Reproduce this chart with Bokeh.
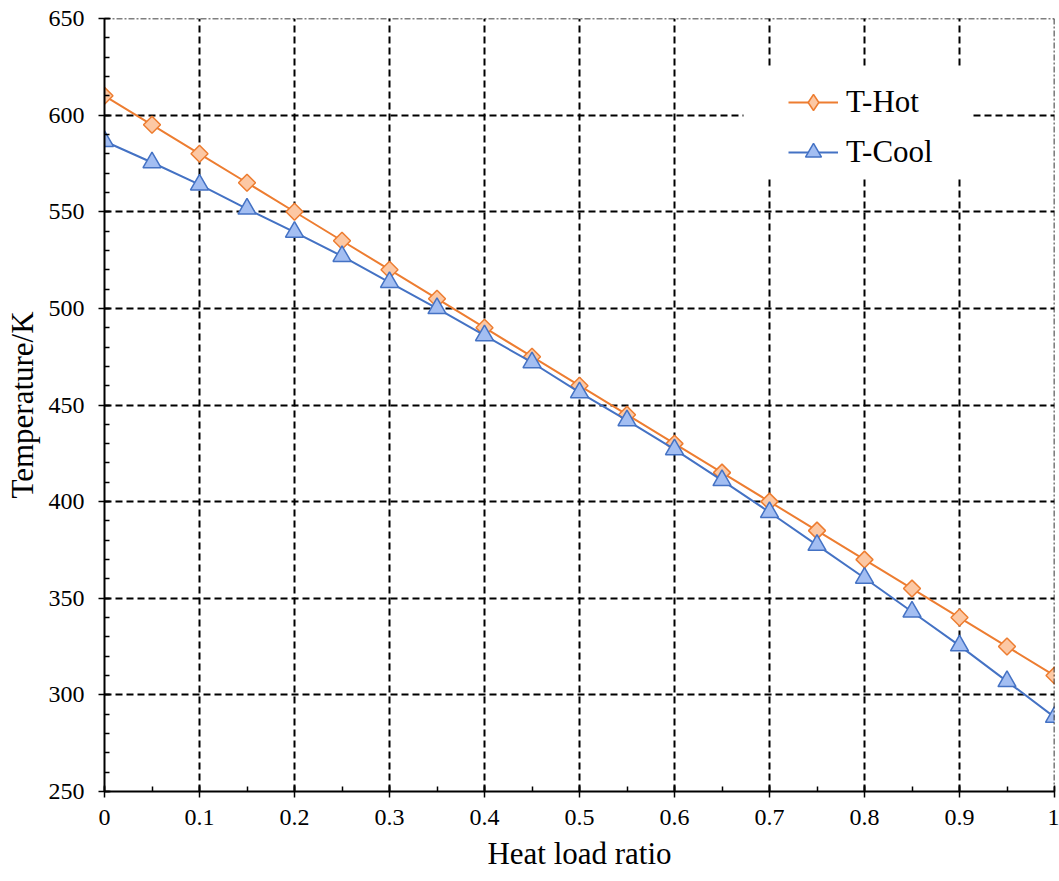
import numpy as np
from bokeh.plotting import figure
from bokeh.models import (SingleIntervalTicker, FixedTicker, Span, BoxAnnotation,
                          CustomJSTickFormatter, Legend, LegendItem)
from bokeh.embed import file_html
from bokeh.resources import INLINE

# ---- data ----
heat_load_ratio = [0.0, 0.05, 0.1, 0.15, 0.2, 0.25, 0.3, 0.35, 0.4, 0.45, 0.5,
                   0.55, 0.6, 0.65, 0.7, 0.75, 0.8, 0.85, 0.9, 0.95, 1.0]
t_hot = [610, 595, 580, 565, 550, 535, 520, 505, 490, 475, 460,
         445, 430, 415, 400, 385, 370, 355, 340, 325, 310]
t_cool = [586.5, 575.5, 564, 551.5, 539.5, 527, 513.5, 500, 486, 472, 456.5,
          442, 427, 411, 394.5, 377.5, 360.5, 343, 325.5, 307, 288.5]

x_ticks = [0, 0.1, 0.2, 0.3, 0.4, 0.5, 0.6, 0.7, 0.8, 0.9, 1.0]
y_ticks = [250, 300, 350, 400, 450, 500, 550, 600, 650]
series_names = ["T-Hot", "T-Cool"]

FONT = "Liberation Serif"
ORANGE = "#ED7D31"
ORANGE_FILL = "#FCC8A4"
BLUE = "#4472C4"
BLUE_FILL = "#A3BEF2"

p = figure(width=1059, height=881, output_backend="svg", toolbar_location=None,
           x_range=(x_ticks[0], x_ticks[-1]), y_range=(y_ticks[0], y_ticks[-1]),
           min_border_left=104, min_border_right=5, min_border_top=18,
           min_border_bottom=90)
p.title.visible = False
p.outline_line_color = None
p.background_fill_color = "white"
p.border_fill_color = "white"

# grids (interior) dashed
p.xgrid.ticker = FixedTicker(ticks=x_ticks[1:-1])
p.ygrid.ticker = FixedTicker(ticks=y_ticks[1:-1])
for g in (p.xgrid, p.ygrid):
    g.grid_line_color = "black"
    g.grid_line_dash = "7 4"
    g.grid_line_width = 2

# plot-area border (top/right) dash-dot
p.add_layout(Span(location=y_ticks[-1], dimension="width", line_color="black",
                  line_width=1.6, line_dash="6 2 2 2"))
p.add_layout(Span(location=x_ticks[-1], dimension="height", line_color="black",
                  line_width=1.6, line_dash="6 2 2 2"))

# axes
p.xaxis.ticker = SingleIntervalTicker(interval=0.1, num_minor_ticks=2)
p.yaxis.ticker = SingleIntervalTicker(interval=50, num_minor_ticks=5)
p.xaxis.formatter = CustomJSTickFormatter(code="return String(Number(tick.toFixed(2)));")
p.xaxis.axis_label = "Heat load ratio"
p.yaxis.axis_label = "Temperature/K"
for ax in (p.xaxis, p.yaxis):
    ax.axis_line_color = "black"
    ax.axis_line_width = 2
    ax.major_tick_line_color = "black"
    ax.major_tick_line_width = 1.5
    ax.major_tick_in = 6
    ax.major_tick_out = 6
    ax.minor_tick_line_color = "black"
    ax.minor_tick_line_width = 1.5
    ax.minor_tick_in = 5
    ax.minor_tick_out = 0
    ax.major_label_text_font = FONT
    ax.major_label_text_font_size = "24px"
    ax.major_label_text_color = "black"
    ax.axis_label_text_font = FONT
    ax.axis_label_text_font_size = "31px"
    ax.axis_label_text_font_style = "normal"
    ax.axis_label_text_color = "black"
p.xaxis.major_label_standoff = 12
p.xaxis.axis_label_standoff = 8
p.yaxis.major_label_standoff = 14
p.yaxis.axis_label_standoff = 6

# legend background box (white, hides grid)
p.add_layout(BoxAnnotation(left=0.6726, right=0.9137, top=624.6, bottom=567.2,
                           fill_color="white", fill_alpha=1.0, line_color=None,
                           level="underlay"))

# series
l1 = p.line(heat_load_ratio, t_hot, line_color=ORANGE, line_width=2)
m1 = p.scatter(heat_load_ratio, t_hot, marker="square", angle=np.pi / 4, size=12,
               fill_color=ORANGE_FILL, line_color=ORANGE, line_width=1.5)
l2 = p.line(heat_load_ratio, t_cool, line_color=BLUE, line_width=2)
m2 = p.scatter(heat_load_ratio, t_cool, marker="triangle", size=18,
               fill_color=BLUE_FILL, line_color=BLUE, line_width=1.5)
# legend key for the diamond (legend markers are never rotated); hidden in plot
m1_key = p.scatter(heat_load_ratio, t_hot, marker="diamond", size=12,
                   fill_color=ORANGE_FILL, line_color=ORANGE, line_width=1.5,
                   visible=False)

legend = Legend(items=[LegendItem(label=series_names[0], renderers=[l1, m1_key]),
                       LegendItem(label=series_names[1], renderers=[l2, m2])],
                location=(684, 619), orientation="vertical")
legend.background_fill_alpha = 0
legend.border_line_color = None
legend.padding = 15
legend.spacing = 10
legend.glyph_width = 50
legend.glyph_height = 40
legend.label_standoff = 8
legend.label_text_font = FONT
legend.label_text_font_size = "31px"
legend.label_text_color = "black"
legend.margin = 0
p.add_layout(legend)

open("out.html", "w").write(file_html(p, INLINE))
